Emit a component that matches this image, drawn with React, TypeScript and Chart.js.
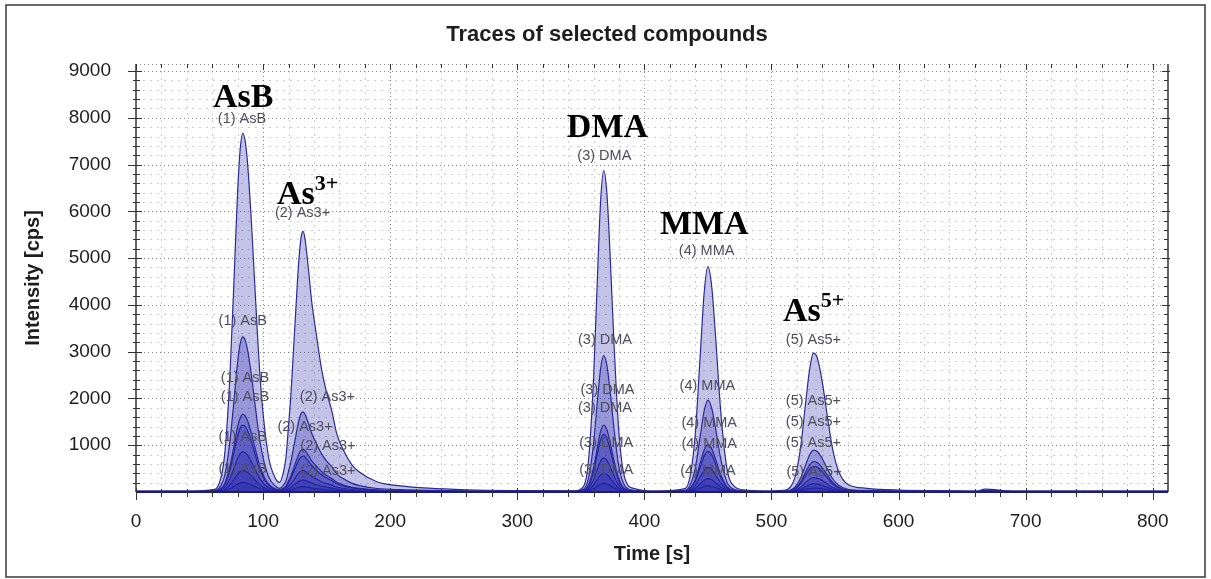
import React, { useEffect, useRef } from 'react';
import { Chart, registerables } from 'chart.js';

Chart.register(...registerables);

// Retention time grid [s]
const timeS = [
  0, 40, 62, 67, 70, 74, 77, 80, 82, 84,
  86, 88, 91, 94, 98, 104, 110, 113, 116, 118,
  120, 122, 124, 126, 128, 130, 131.5, 133, 136, 138,
  142, 146, 150, 154, 158, 163, 170, 176, 190, 208,
  230, 260, 300, 345, 352, 356, 360, 363, 365.5, 368,
  370.5, 373, 376, 380, 385, 392, 410, 432, 436, 440,
  444, 447, 450, 453, 456, 460, 465, 471, 478, 495,
  509, 515, 519, 523, 527, 530, 533, 536, 540, 544,
  548, 553, 560, 575, 600, 640, 662, 668, 690, 812,
];

// Intensity [cps] of each calibration level trace
const level1 = [
  20, 20, 58, 326, 862, 2545, 4457, 6446, 7333, 7670,
  7486, 6951, 5681, 4151, 2315, 796, 278, 205, 424, 742,
  1408, 2129, 3073, 4016, 4904, 5459, 5570, 5404, 4682, 4127,
  3350, 2629, 2129, 1741, 1241, 908, 575, 420, 214, 131,
  81, 48, 31, 27, 116, 657, 2418, 4541, 6185, 6870,
  6391, 5089, 3240, 1253, 260, 75, 20, 73, 337, 1220,
  2948, 4244, 4820, 4388, 3332, 1748, 500, 116, 44, 20,
  35, 109, 365, 964, 1938, 2616, 2970, 2870, 2351, 1613,
  935, 433, 168, 79, 41, 26, 20, 60, 20, 20,
];
const level2 = [
  15, 15, 32, 147, 378, 1104, 1929, 2787, 3170, 3315,
  3236, 3005, 2457, 1797, 1005, 348, 118, 77, 141, 236,
  440, 661, 950, 1239, 1511, 1681, 1715, 1664, 1443, 1273,
  1035, 814, 661, 542, 389, 287, 185, 137, 75, 49,
  34, 24, 18, 18, 56, 285, 1030, 1929, 2625, 2915,
  2712, 2161, 1378, 537, 117, 38, 15, 36, 144, 503,
  1205, 1731, 1965, 1790, 1361, 717, 210, 54, 25, 15,
  19, 41, 118, 297, 587, 789, 895, 865, 710, 490,
  288, 138, 59, 33, 21, 17, 15, 35, 15, 15,
];
const level3 = [
  12, 12, 20, 78, 194, 557, 969, 1398, 1589, 1662,
  1622, 1507, 1233, 903, 507, 179, 64, 44, 78, 129,
  237, 354, 507, 660, 804, 894, 912, 885, 768, 678,
  552, 435, 354, 291, 210, 156, 102, 77, 44, 30,
  22, 16, 14, 13, 32, 144, 509, 949, 1290, 1432,
  1333, 1063, 679, 268, 62, 23, 12, 23, 78, 262,
  622, 892, 1012, 922, 702, 372, 112, 32, 17, 12,
  15, 31, 87, 217, 428, 575, 652, 630, 518, 358,
  210, 102, 44, 25, 16, 13, 12, 25, 12, 12,
];
const level4 = [
  10, 10, 17, 67, 166, 479, 834, 1203, 1368, 1430,
  1396, 1297, 1061, 777, 436, 154, 55, 38, 66, 109,
  200, 299, 428, 557, 679, 755, 770, 747, 648, 572,
  466, 367, 299, 246, 177, 132, 86, 65, 37, 25,
  18, 14, 12, 11, 27, 123, 437, 815, 1108, 1230,
  1145, 913, 583, 230, 53, 20, 10, 20, 67, 225,
  535, 767, 870, 793, 603, 320, 96, 27, 14, 10,
  13, 26, 73, 183, 361, 485, 550, 532, 437, 302,
  177, 86, 37, 21, 14, 11, 10, 20, 10, 10,
];
const level5 = [
  8, 8, 12, 42, 102, 289, 501, 722, 821, 858,
  838, 778, 637, 467, 263, 94, 34, 24, 41, 67,
  121, 179, 256, 332, 404, 449, 458, 445, 386, 341,
  278, 220, 179, 148, 107, 80, 53, 40, 24, 17,
  13, 10, 9, 9, 18, 75, 260, 483, 656, 728,
  678, 541, 346, 138, 33, 14, 8, 14, 42, 138,
  325, 466, 528, 481, 367, 195, 60, 18, 11, 8,
  10, 17, 43, 104, 203, 272, 308, 298, 245, 170,
  101, 50, 23, 14, 10, 9, 8, 15, 8, 8,
];
const level6 = [
  6, 6, 8, 24, 56, 155, 267, 384, 436, 456,
  445, 414, 339, 249, 141, 52, 20, 15, 25, 39,
  69, 101, 144, 186, 226, 251, 256, 249, 216, 191,
  156, 124, 101, 84, 61, 46, 31, 24, 15, 11,
  9, 7, 6, 6, 12, 43, 146, 270, 366, 406,
  378, 302, 194, 78, 20, 9, 6, 9, 25, 76,
  177, 252, 286, 261, 199, 107, 34, 12, 7, 6,
  7, 11, 26, 60, 117, 156, 176, 170, 140, 98,
  59, 30, 15, 9, 7, 6, 6, 10, 6, 6,
];
const level7 = [
  5, 5, 6, 13, 27, 71, 121, 173, 196, 205,
  200, 186, 153, 113, 65, 25, 11, 9, 13, 19,
  33, 47, 66, 84, 102, 113, 115, 112, 97, 86,
  71, 57, 47, 39, 29, 23, 16, 13, 9, 7,
  6, 5, 5, 5, 8, 22, 68, 124, 167, 185,
  172, 138, 90, 37, 11, 6, 5, 6, 14, 38,
  84, 119, 135, 123, 95, 52, 18, 8, 6, 5,
  5, 7, 14, 31, 57, 75, 85, 82, 68, 48,
  30, 16, 9, 7, 6, 5, 5, 8, 5, 5,
];
const levels = [level1, level2, level3, level4, level5, level6, level7];

// Axis tick labels
const xTickValues = [0, 100, 200, 300, 400, 500, 600, 700, 800];
const yTickValues = [1000, 2000, 3000, 4000, 5000, 6000, 7000, 8000, 9000];

// Peak tags: text and [time, intensity] anchors
const tagTexts = ['(1) AsB', '(2) As3+', '(3) DMA', '(4) MMA', '(5) As5+'];
const tagAnchors = [
  [[83.4, 7970], [84, 3650], [85.8, 2435], [85.8, 2030], [84, 1185], [84, 485]],
  [[131, 5970], [150.6, 2030], [133, 1400], [151, 990], [151, 457]],
  [[368.5, 7185], [369, 3257], [371, 2185], [369, 1793], [370, 1043], [370, 471]],
  [[449, 5150], [449.6, 2256], [451, 1471], [451, 1028], [450, 457]],
  [[533, 3257], [533, 1935], [533, 1507], [533, 1043], [533.5, 435]],
];

// Compound names (base text, superscript) and [time, intensity] of their left baseline
const nameBase = ['AsB', 'As', 'DMA', 'MMA', 'As'];
const nameSup = ['', '3+', '', '', '5+'];
const nameAnchors = [[60.6, 8228], [110.9, 6150], [339, 7585], [412.2, 5507], [509, 3664]];

const titleText = 'Traces of selected compounds';
const xTitle = 'Time [s]';
const yTitle = 'Intensity [cps]';

const SANS = '"Liberation Sans", Arial, sans-serif';
const SERIF = '"Liberation Serif", "Times New Roman", serif';

const decorPlugin = {
  id: 'decor',
  beforeDraw(chart: any) {
    const ctx = chart.ctx;
    ctx.save();
    ctx.fillStyle = '#ffffff';
    ctx.fillRect(0, 0, chart.width, chart.height);
    ctx.restore();
  },
  beforeDatasetsDraw(chart: any) {
    const ctx = chart.ctx;
    const { left, right, top, bottom } = chart.chartArea;
    const xs = chart.scales.x;
    const ys = chart.scales.y;
    ctx.save();
    ctx.lineWidth = 1;
    ctx.strokeStyle = '#cdcdcd';
    ctx.setLineDash([2, 5]);
    for (let v = 20; v < 812; v += 20) {
      if (v % 100 === 0) continue;
      const px = Math.round(xs.getPixelForValue(v)) + 0.5;
      ctx.beginPath(); ctx.moveTo(px, top); ctx.lineTo(px, bottom); ctx.stroke();
    }
    for (let v = 200; v < 9150; v += 200) {
      if (v % 1000 === 0) continue;
      const py = Math.round(ys.getPixelForValue(v)) + 0.5;
      ctx.beginPath(); ctx.moveTo(left, py); ctx.lineTo(right, py); ctx.stroke();
    }
    ctx.strokeStyle = '#8a8a8a';
    ctx.setLineDash([1, 3]);
    for (let v = 100; v <= 800; v += 100) {
      const px = Math.round(xs.getPixelForValue(v)) + 0.5;
      ctx.beginPath(); ctx.moveTo(px, top); ctx.lineTo(px, bottom); ctx.stroke();
    }
    for (let v = 1000; v <= 9000; v += 1000) {
      const py = Math.round(ys.getPixelForValue(v)) + 0.5;
      ctx.beginPath(); ctx.moveTo(left, py); ctx.lineTo(right, py); ctx.stroke();
    }
    ctx.beginPath(); ctx.moveTo(left, top + 0.5); ctx.lineTo(right, top + 0.5); ctx.stroke();
    ctx.restore();
  },
  afterDatasetsDraw(chart: any) {
    const ctx = chart.ctx;
    const { left, right, top, bottom } = chart.chartArea;
    const xs = chart.scales.x;
    const ys = chart.scales.y;
    ctx.save();
    ctx.setLineDash([]);
    ctx.strokeStyle = '#333333';
    ctx.lineWidth = 1.5;
    ctx.beginPath(); ctx.moveTo(left, top); ctx.lineTo(left, bottom); ctx.stroke();
    ctx.beginPath(); ctx.moveTo(right, top); ctx.lineTo(right, bottom); ctx.stroke();
    ctx.strokeStyle = '#1c1c70';
    ctx.lineWidth = 2;
    ctx.beginPath(); ctx.moveTo(left, bottom); ctx.lineTo(right, bottom); ctx.stroke();
    ctx.lineWidth = 1;
    ctx.strokeStyle = '#333333';
    for (let v = 0; v <= 812; v += 20) {
      const px = Math.round(xs.getPixelForValue(v)) + 0.5;
      const major = v % 100 === 0;
      ctx.beginPath(); ctx.moveTo(px, bottom - (major ? 4 : 3)); ctx.lineTo(px, bottom + (major ? 8 : 5)); ctx.stroke();
      ctx.beginPath(); ctx.moveTo(px, top); ctx.lineTo(px, top + (major ? 6 : 4)); ctx.stroke();
    }
    for (let v = 200; v <= 9150; v += 200) {
      const py = Math.round(ys.getPixelForValue(v)) + 0.5;
      const major = v % 1000 === 0;
      ctx.beginPath(); ctx.moveTo(left - (major ? 8 : 3), py); ctx.lineTo(left + (major ? 6 : 4), py); ctx.stroke();
      ctx.beginPath(); ctx.moveTo(right - (major ? 6 : 4), py); ctx.lineTo(right + (major ? 2 : 0), py); ctx.stroke();
    }
    ctx.font = `14.5px ${SANS}`;
    ctx.fillStyle = '#4e4e5c';
    ctx.textAlign = 'center';
    ctx.textBaseline = 'middle';
    tagAnchors.forEach((pts, ci) => {
      pts.forEach(([t, v]) => {
        ctx.fillText(tagTexts[ci], xs.getPixelForValue(t), ys.getPixelForValue(v));
      });
    });
    ctx.fillStyle = '#000000';
    ctx.textAlign = 'left';
    ctx.textBaseline = 'alphabetic';
    nameAnchors.forEach(([t, v], i) => {
      const px = xs.getPixelForValue(t);
      const py = ys.getPixelForValue(v);
      ctx.font = `bold 34px ${SERIF}`;
      ctx.fillText(nameBase[i], px, py);
      if (nameSup[i]) {
        const w = ctx.measureText(nameBase[i]).width;
        ctx.font = `bold 22px ${SERIF}`;
        ctx.fillText(nameSup[i], px + w, py - 14);
      }
    });
    ctx.restore();
  },
  afterDraw(chart: any) {
    const ctx = chart.ctx;
    const { left, right, top, bottom } = chart.chartArea;
    ctx.save();
    ctx.fillStyle = '#1e1e1e';
    ctx.font = `bold 22px ${SANS}`;
    ctx.textAlign = 'center';
    ctx.textBaseline = 'alphabetic';
    ctx.fillText(titleText, 607, 41);
    ctx.font = `bold 20px ${SANS}`;
    ctx.fillText(xTitle, (left + right) / 2, 560);
    ctx.translate(33, (top + bottom) / 2);
    ctx.rotate(-Math.PI / 2);
    ctx.textBaseline = 'middle';
    ctx.fillText(yTitle, 0, 0);
    ctx.restore();
    ctx.save();
    ctx.strokeStyle = '#3a3a3a';
    ctx.lineWidth = 1.5;
    ctx.strokeRect(6, 5, 1199, 572);
    ctx.restore();
  },
};

export default function App() {
  const canvasRef = useRef<HTMLCanvasElement | null>(null);

  useEffect(() => {
    document.body.style.margin = '0';
    const canvas = canvasRef.current;
    if (!canvas) return;
    const datasets = levels.map((lv) => ({
      data: timeS.map((t, i) => ({ x: t, y: lv[i] })),
      borderColor: '#2a2a96',
      borderWidth: 1.2,
      backgroundColor: 'rgba(35,35,170,0.27)',
      fill: 'origin',
      pointRadius: 0,
      cubicInterpolationMode: 'monotone' as const,
    }));
    const chart = new Chart(canvas, {
      type: 'line',
      data: { datasets },
      options: {
        animation: false,
        responsive: true,
        maintainAspectRatio: false,
        layout: { padding: { left: 0, right: 43, top: 64, bottom: 0 } },
        plugins: { legend: { display: false }, title: { display: false }, tooltip: { enabled: false } },
        scales: {
          x: {
            type: 'linear',
            min: 0,
            max: 812,
            grid: { display: false, drawTicks: false },
            border: { display: false },
            afterBuildTicks: (s: any) => { s.ticks = xTickValues.map((v) => ({ value: v })); },
            ticks: {
              autoSkip: false,
              maxRotation: 0,
              padding: 18,
              color: '#1e1e1e',
              font: { family: SANS, size: 19 },
              callback: (v: any) => String(v),
            },
            afterFit: (s: any) => { s.height = 87; },
          },
          y: {
            type: 'linear',
            min: 0,
            max: 9150,
            grid: { display: false, drawTicks: false },
            border: { display: false },
            afterBuildTicks: (s: any) => { s.ticks = yTickValues.map((v) => ({ value: v })); },
            ticks: {
              autoSkip: false,
              padding: 25,
              color: '#1e1e1e',
              font: { family: SANS, size: 19 },
              callback: (v: any) => String(v),
            },
            afterFit: (s: any) => { s.width = 136; },
          },
        },
      },
      plugins: [decorPlugin],
    });
    return () => chart.destroy();
  }, []);

  return (
    <div style={{ width: 1211, height: 579, position: 'relative' }}>
      <canvas ref={canvasRef} />
    </div>
  );
}
